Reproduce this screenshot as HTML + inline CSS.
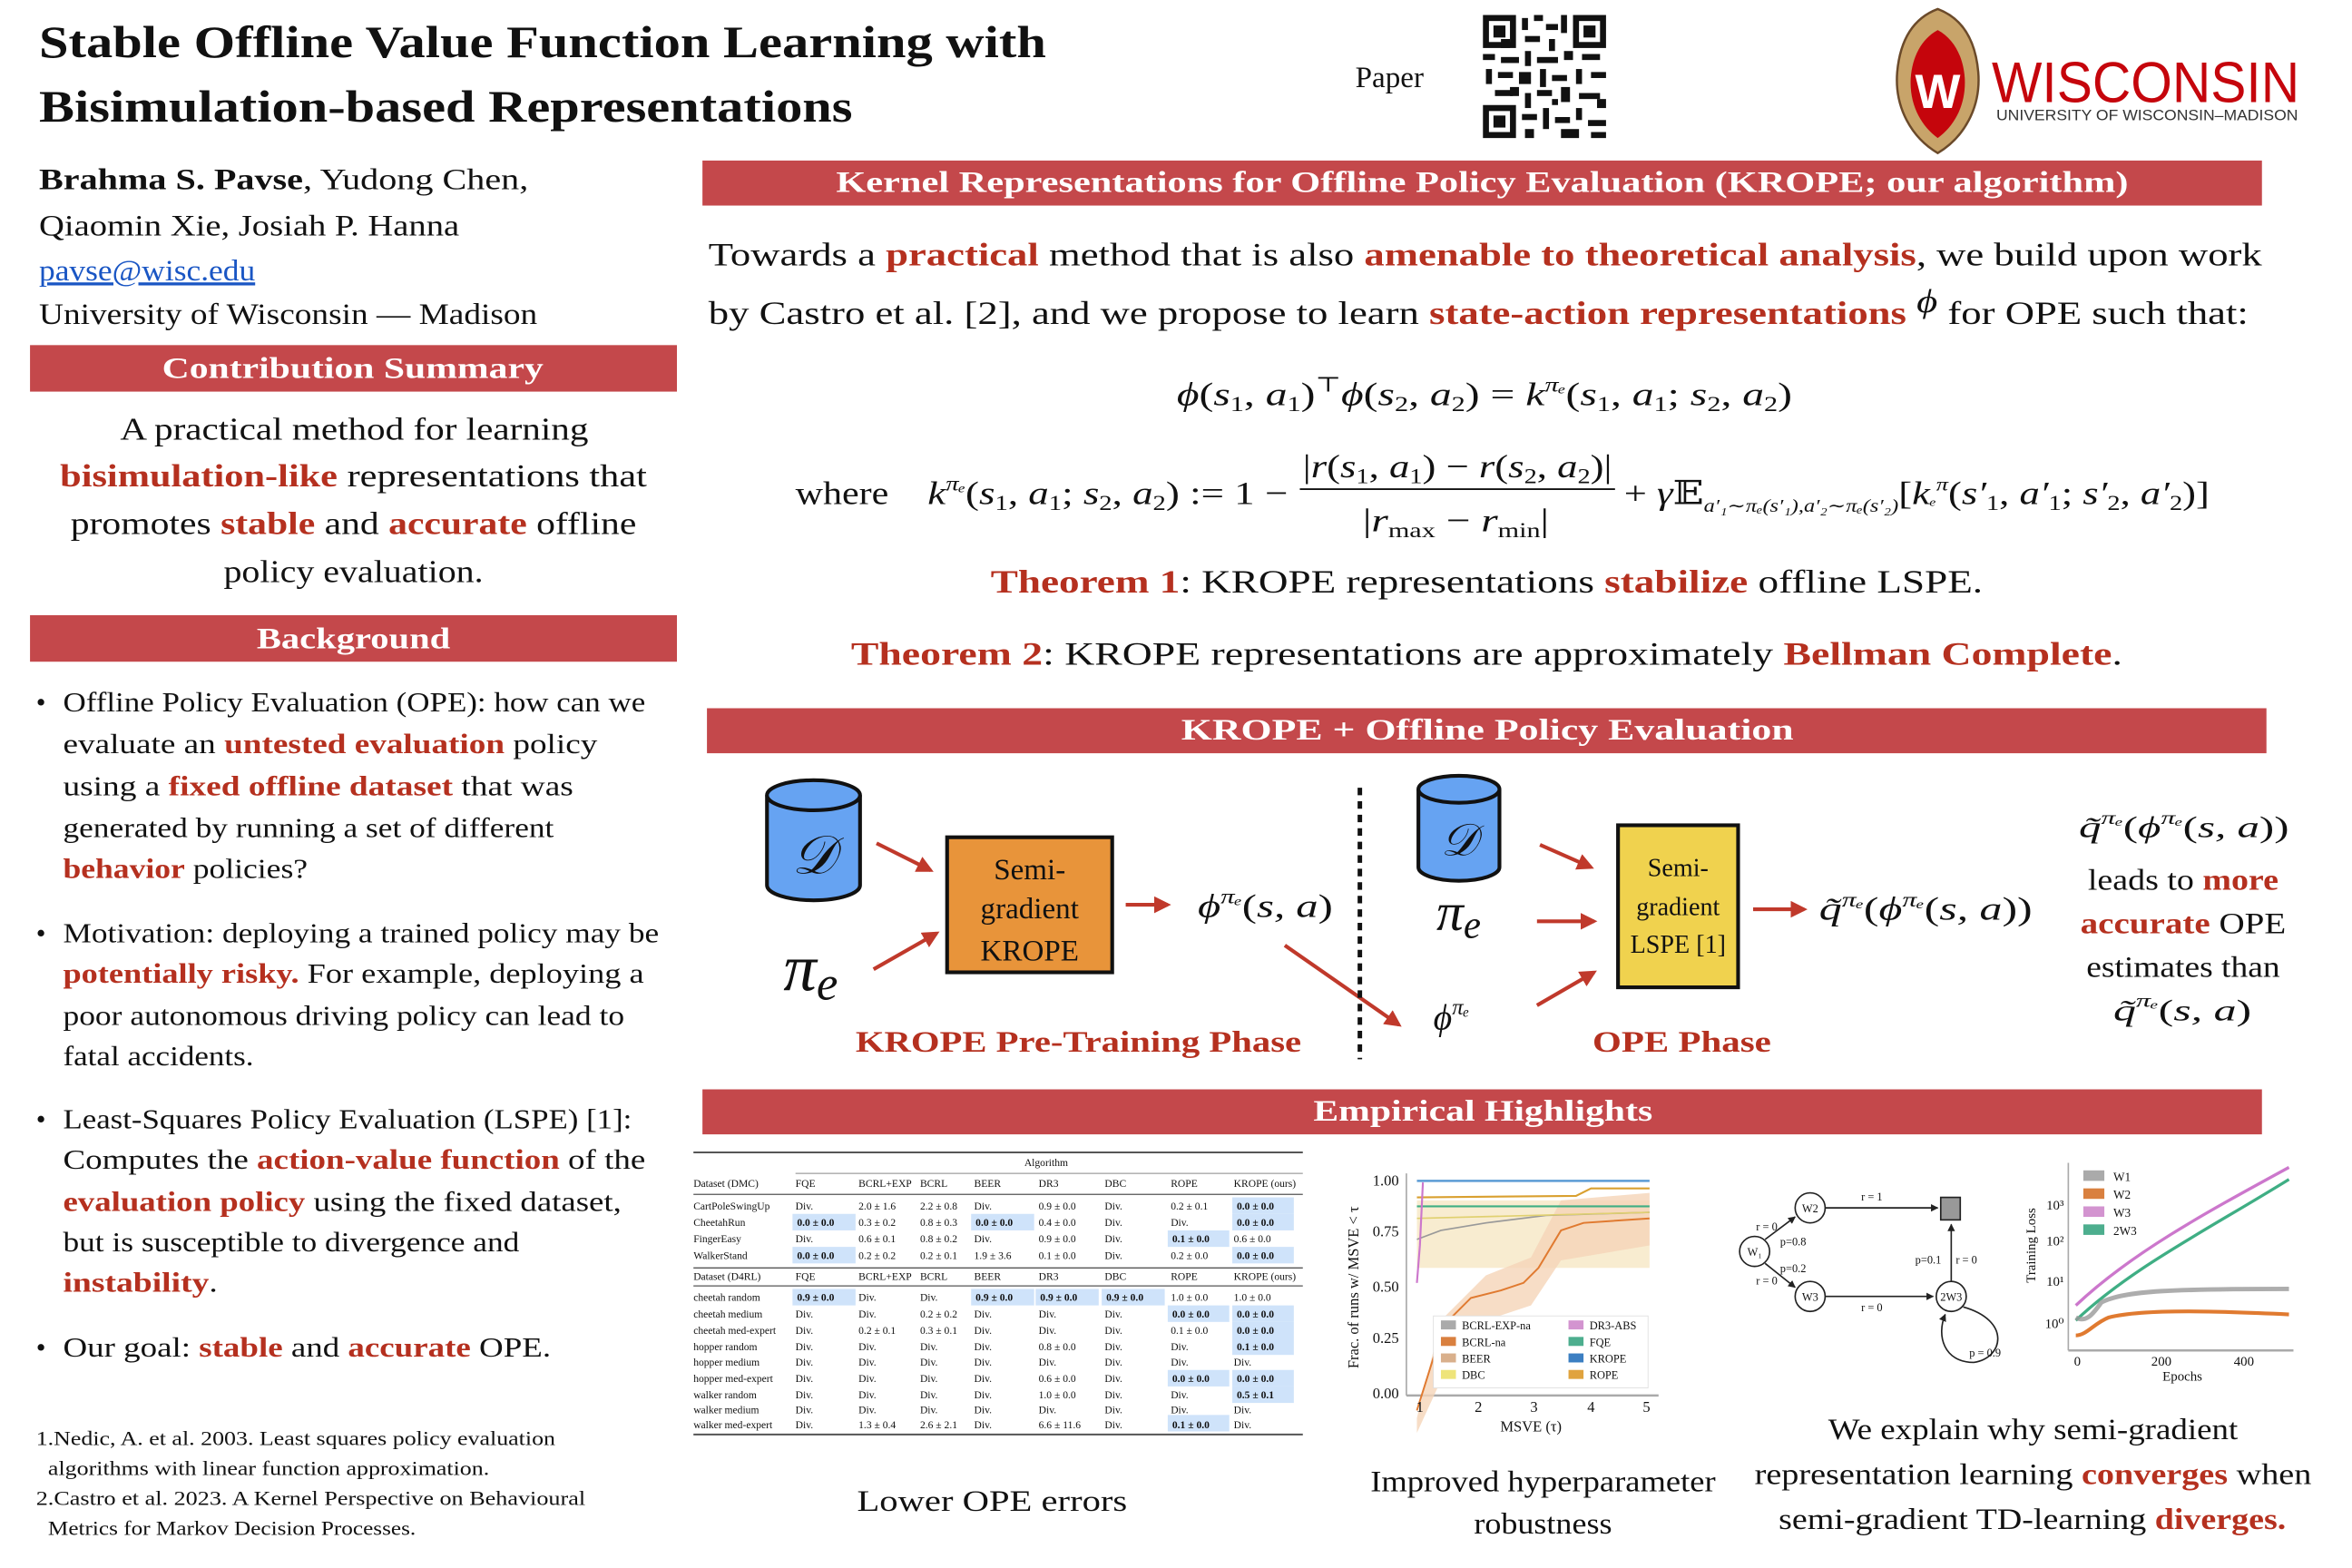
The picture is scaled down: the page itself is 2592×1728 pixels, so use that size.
<!DOCTYPE html>
<html><head><meta charset="utf-8"><style>
html,body{margin:0;padding:0;background:#fff;width:2592px;height:1728px;overflow:hidden}
svg{display:block}
text{font-family:"Liberation Serif","DejaVu Serif",serif;fill:#111}
.r{fill:#b5301f;font-weight:bold}
.w{fill:#fff}
.b{font-weight:bold}
.i{font-style:italic}
.s{font-family:"Liberation Sans","DejaVu Sans",sans-serif}
.t text{font-size:7px}
.hl{fill:#cfe3fa}
</style></head><body>
<svg width="2592" height="1728" viewBox="0 0 1567 1045" preserveAspectRatio="none" xmlns="http://www.w3.org/2000/svg">
<defs>
<marker id="ar" viewBox="0 0 10 10" refX="8" refY="5" markerWidth="4.5" markerHeight="4.5" orient="auto"><path d="M0,0L10,5L0,10z" fill="#c0392b"/></marker>
<marker id="ak" viewBox="0 0 10 10" refX="9" refY="5" markerWidth="5" markerHeight="5" orient="auto"><path d="M0,0L10,5L0,10z" fill="#222"/></marker>
</defs>
<!-- Title -->
<text x="26" y="38" font-size="30" class="b" textLength="671" lengthAdjust="spacingAndGlyphs">Stable Offline Value Function Learning with</text>
<text x="26" y="81" font-size="30" class="b" textLength="542" lengthAdjust="spacingAndGlyphs">Bisimulation-based Representations</text>
<text x="903" y="58" font-size="20">Paper</text>
<!-- QR -->
<g fill="#111">
<rect x="988" y="10" width="82" height="82" fill="#fff"/>
<rect x="988" y="10" width="22" height="22"/><rect x="992" y="14" width="14" height="14" fill="#fff"/><rect x="995" y="17" width="8" height="8"/>
<rect x="1048" y="10" width="22" height="22"/><rect x="1052" y="14" width="14" height="14" fill="#fff"/><rect x="1055" y="17" width="8" height="8"/>
<rect x="988" y="70" width="22" height="22"/><rect x="992" y="74" width="14" height="14" fill="#fff"/><rect x="995" y="77" width="8" height="8"/>
<rect x="1014" y="12" width="4" height="8"/><rect x="1022" y="10" width="6" height="4"/><rect x="1030" y="16" width="8" height="4"/><rect x="1040" y="10" width="4" height="12"/>
<rect x="1016" y="24" width="10" height="4"/><rect x="1032" y="26" width="4" height="8"/><rect x="988" y="36" width="8" height="4"/><rect x="1000" y="38" width="12" height="4"/>
<rect x="1016" y="34" width="4" height="10"/><rect x="1024" y="38" width="14" height="4"/><rect x="1042" y="34" width="6" height="6"/><rect x="1054" y="36" width="12" height="4"/>
<rect x="990" y="46" width="4" height="10"/><rect x="998" y="48" width="10" height="4"/><rect x="1012" y="48" width="8" height="8"/><rect x="1026" y="46" width="4" height="12"/>
<rect x="1034" y="50" width="10" height="4"/><rect x="1050" y="46" width="4" height="10"/><rect x="1060" y="48" width="10" height="4"/><rect x="996" y="60" width="12" height="4"/>
<rect x="1016" y="62" width="4" height="10"/><rect x="1024" y="60" width="10" height="4"/><rect x="1040" y="58" width="6" height="10"/><rect x="1052" y="62" width="14" height="4"/>
<rect x="1014" y="76" width="10" height="4"/><rect x="1028" y="72" width="4" height="14"/><rect x="1036" y="78" width="10" height="4"/><rect x="1050" y="72" width="4" height="8"/>
<rect x="1058" y="80" width="12" height="4"/><rect x="1016" y="86" width="6" height="6"/><rect x="1040" y="86" width="12" height="6"/><rect x="1060" y="88" width="10" height="4"/>
<rect x="1000" y="26" width="6" height="6"/><rect x="1006" y="58" width="6" height="6"/><rect x="1064" y="66" width="6" height="6"/><rect x="1034" y="66" width="4" height="4"/>
</g>
<!-- Wisconsin logo -->
<path d="M1291,6 C1275,12 1266,26 1264,48 C1262,72 1274,92 1291,102 C1308,92 1320,72 1318,48 C1316,26 1307,12 1291,6z" fill="#c8a46a" stroke="#6b4a2a" stroke-width="1.5"/>
<path d="M1291,20 C1280,26 1274,38 1273,52 C1272,70 1280,84 1291,92 C1302,84 1310,70 1309,52 C1308,38 1302,26 1291,20z" fill="#c5050c"/>
<text x="1291" y="72" font-size="32" text-anchor="middle" class="s b w">W</text>
<text x="1327" y="68" font-size="38" class="s" style="fill:#c5050c" textLength="205" lengthAdjust="spacingAndGlyphs">WISCONSIN</text>
<text x="1330" y="80" font-size="10" class="s" textLength="201" lengthAdjust="spacingAndGlyphs" style="fill:#333">UNIVERSITY OF WISCONSIN–MADISON</text>
<!-- Authors -->
<g font-size="20">
<text x="26" y="126" textLength="326" lengthAdjust="spacingAndGlyphs"><tspan class="b">Brahma S. Pavse</tspan>, Yudong Chen,</text>
<text x="26" y="157" textLength="280" lengthAdjust="spacingAndGlyphs">Qiaomin Xie, Josiah P. Hanna</text>
<text x="26" y="187" style="fill:#1a56c4" text-decoration="underline" textLength="144" lengthAdjust="spacingAndGlyphs">pavse@wisc.edu</text>
<text x="26" y="216" textLength="332" lengthAdjust="spacingAndGlyphs">University of Wisconsin — Madison</text>
</g>
<!-- Banners -->
<g fill="#c4484b">
<rect x="20" y="230" width="431" height="31"/>
<rect x="20" y="410" width="431" height="31"/>
<rect x="468" y="107" width="1039" height="30"/>
<rect x="471" y="472" width="1039" height="30"/>
<rect x="468" y="726" width="1039" height="30"/>
</g>
<text x="108" y="252" font-size="20" class="w b" textLength="254" lengthAdjust="spacingAndGlyphs">Contribution Summary</text>
<text x="171" y="432" font-size="20" class="w b" textLength="129" lengthAdjust="spacingAndGlyphs">Background</text>
<text x="557" y="128" font-size="20" class="w b" textLength="861" lengthAdjust="spacingAndGlyphs">Kernel Representations for Offline Policy Evaluation (KROPE; our algorithm)</text>
<text x="787" y="493" font-size="20" class="w b" textLength="408" lengthAdjust="spacingAndGlyphs">KROPE  + Offline Policy Evaluation</text>
<text x="875" y="747" font-size="20" class="w b" textLength="226" lengthAdjust="spacingAndGlyphs">Empirical Highlights</text>
<!-- Summary -->
<g font-size="21">
<text x="80" y="293" textLength="312" lengthAdjust="spacingAndGlyphs">A practical method for learning</text>
<text x="40" y="324" textLength="391" lengthAdjust="spacingAndGlyphs"><tspan class="r">bisimulation-like</tspan> representations that</text>
<text x="47" y="356" textLength="377" lengthAdjust="spacingAndGlyphs">promotes <tspan class="r">stable</tspan> and <tspan class="r">accurate</tspan> offline</text>
<text x="149" y="388" textLength="173" lengthAdjust="spacingAndGlyphs">policy evaluation.</text>
</g>
<!-- Background bullets -->
<g font-size="18.5">
<text x="24" y="474">•</text><text x="42" y="474" textLength="388" lengthAdjust="spacingAndGlyphs">Offline Policy Evaluation (OPE): how can we</text>
<text x="42" y="502" textLength="356" lengthAdjust="spacingAndGlyphs">evaluate an <tspan class="r">untested evaluation</tspan> policy</text>
<text x="42" y="530" textLength="340" lengthAdjust="spacingAndGlyphs">using a <tspan class="r">fixed offline dataset</tspan> that was</text>
<text x="42" y="558" textLength="327" lengthAdjust="spacingAndGlyphs">generated by running a set of different</text>
<text x="42" y="585" textLength="163" lengthAdjust="spacingAndGlyphs"><tspan class="r">behavior</tspan> policies?</text>
<text x="24" y="628">•</text><text x="42" y="628" textLength="397" lengthAdjust="spacingAndGlyphs">Motivation: deploying a trained policy may be</text>
<text x="42" y="655" textLength="387" lengthAdjust="spacingAndGlyphs"><tspan class="r">potentially risky.</tspan> For example, deploying a</text>
<text x="42" y="683" textLength="374" lengthAdjust="spacingAndGlyphs">poor autonomous driving policy can lead to</text>
<text x="42" y="710" textLength="127" lengthAdjust="spacingAndGlyphs">fatal accidents.</text>
<text x="24" y="752">•</text><text x="42" y="752" textLength="379" lengthAdjust="spacingAndGlyphs">Least-Squares Policy Evaluation (LSPE) [1]:</text>
<text x="42" y="779" textLength="388" lengthAdjust="spacingAndGlyphs">Computes the <tspan class="r">action-value function</tspan> of the</text>
<text x="42" y="807" textLength="372" lengthAdjust="spacingAndGlyphs"><tspan class="r">evaluation policy</tspan> using the fixed dataset,</text>
<text x="42" y="834" textLength="304" lengthAdjust="spacingAndGlyphs">but is susceptible to divergence and</text>
<text x="42" y="861" textLength="103" lengthAdjust="spacingAndGlyphs"><tspan class="r">instability</tspan>.</text>
<text x="24" y="904">•</text><text x="42" y="904" textLength="325" lengthAdjust="spacingAndGlyphs">Our goal: <tspan class="r">stable</tspan> and <tspan class="r">accurate</tspan> OPE.</text>
</g>
<g font-size="13.5">
<text x="24" y="963" textLength="346" lengthAdjust="spacingAndGlyphs">1.Nedic, A. et al. 2003. Least squares policy evaluation</text>
<text x="32" y="983" textLength="294" lengthAdjust="spacingAndGlyphs">algorithms with linear function approximation.</text>
<text x="24" y="1003" textLength="366" lengthAdjust="spacingAndGlyphs">2.Castro et al. 2023. A Kernel Perspective on Behavioural</text>
<text x="32" y="1023" textLength="245" lengthAdjust="spacingAndGlyphs">Metrics for Markov Decision Processes.</text>
</g>
<!-- KROPE text -->
<g font-size="22">
<text x="472" y="177" textLength="1035" lengthAdjust="spacingAndGlyphs">Towards a <tspan class="r">practical</tspan> method that is also <tspan class="r">amenable to theoretical analysis</tspan>, we build upon work</text>
<text x="472" y="216" textLength="1026" lengthAdjust="spacingAndGlyphs">by Castro et al. [2], and we propose to learn <tspan class="r">state-action representations</tspan> <tspan class="i" dy="-8">ϕ</tspan><tspan dy="8"> for OPE such that:</tspan></text>
<text x="784" y="270" textLength="410" lengthAdjust="spacingAndGlyphs"><tspan class="i">ϕ</tspan>(<tspan class="i">s</tspan><tspan font-size="14" dy="4">1</tspan><tspan dy="-4">, </tspan><tspan class="i">a</tspan><tspan font-size="14" dy="4">1</tspan><tspan dy="-4">)</tspan><tspan font-size="14" dy="-9">⊤</tspan><tspan dy="9" class="i">ϕ</tspan>(<tspan class="i">s</tspan><tspan font-size="14" dy="4">2</tspan><tspan dy="-4">, </tspan><tspan class="i">a</tspan><tspan font-size="14" dy="4">2</tspan><tspan dy="-4">) = </tspan><tspan class="i">k</tspan><tspan font-size="14" dy="-9" class="i">πₑ</tspan><tspan dy="9">(</tspan><tspan class="i">s</tspan><tspan font-size="14" dy="4">1</tspan><tspan dy="-4">, </tspan><tspan class="i">a</tspan><tspan font-size="14" dy="4">1</tspan><tspan dy="-4">; </tspan><tspan class="i">s</tspan><tspan font-size="14" dy="4">2</tspan><tspan dy="-4">, </tspan><tspan class="i">a</tspan><tspan font-size="14" dy="4">2</tspan><tspan dy="-4">)</tspan></text>
<text x="530" y="336" textLength="62" lengthAdjust="spacingAndGlyphs">where</text>
<text x="618" y="336" textLength="240" lengthAdjust="spacingAndGlyphs"><tspan class="i">k</tspan><tspan font-size="14" dy="-9" class="i">πₑ</tspan><tspan dy="9">(</tspan><tspan class="i">s</tspan><tspan font-size="14" dy="4">1</tspan><tspan dy="-4">, </tspan><tspan class="i">a</tspan><tspan font-size="14" dy="4">1</tspan><tspan dy="-4">; </tspan><tspan class="i">s</tspan><tspan font-size="14" dy="4">2</tspan><tspan dy="-4">, </tspan><tspan class="i">a</tspan><tspan font-size="14" dy="4">2</tspan><tspan dy="-4">) := 1 −</tspan></text>
<text x="868" y="318" textLength="206" lengthAdjust="spacingAndGlyphs">|<tspan class="i">r</tspan>(<tspan class="i">s</tspan><tspan font-size="14" dy="4">1</tspan><tspan dy="-4">, </tspan><tspan class="i">a</tspan><tspan font-size="14" dy="4">1</tspan><tspan dy="-4">) − </tspan><tspan class="i">r</tspan>(<tspan class="i">s</tspan><tspan font-size="14" dy="4">2</tspan><tspan dy="-4">, </tspan><tspan class="i">a</tspan><tspan font-size="14" dy="4">2</tspan><tspan dy="-4">)|</tspan></text>
<text x="908" y="354" textLength="124" lengthAdjust="spacingAndGlyphs">|<tspan class="i">r</tspan><tspan font-size="14" dy="4">max</tspan><tspan dy="-4"> − </tspan><tspan class="i">r</tspan><tspan font-size="14" dy="4">min</tspan><tspan dy="-4">|</tspan></text>
<text x="1082" y="336" textLength="390" lengthAdjust="spacingAndGlyphs">+ <tspan class="i">γ</tspan>𝔼<tspan font-size="12" dy="5" class="i">a′₁∼πₑ(s′₁),a′₂∼πₑ(s′₂)</tspan><tspan dy="-5">[</tspan><tspan class="i">k</tspan><tspan font-size="13" class="i">ₑ</tspan><tspan font-size="13" dy="-9" class="i">π</tspan><tspan dy="9">(</tspan><tspan class="i">s′</tspan><tspan font-size="14" dy="4">1</tspan><tspan dy="-4">, </tspan><tspan class="i">a′</tspan><tspan font-size="14" dy="4">1</tspan><tspan dy="-4">; </tspan><tspan class="i">s′</tspan><tspan font-size="14" dy="4">2</tspan><tspan dy="-4">, </tspan><tspan class="i">a′</tspan><tspan font-size="14" dy="4">2</tspan><tspan dy="-4">)]</tspan></text>
<text x="660" y="395" textLength="661" lengthAdjust="spacingAndGlyphs"><tspan class="r">Theorem 1</tspan>: KROPE representations <tspan class="r">stabilize</tspan> offline LSPE.</text>
<text x="567" y="443" textLength="847" lengthAdjust="spacingAndGlyphs"><tspan class="r">Theorem 2</tspan>: KROPE representations are approximately <tspan class="r">Bellman Complete</tspan>.</text>
</g>
<line x1="866" y1="326" x2="1076" y2="326" stroke="#111" stroke-width="1.2"/>
<!-- Diagram -->
<g stroke="#111" stroke-width="2.5">
<path d="M511,530 L511,590 A31,10 0 0 0 573,590 L573,530" fill="#66a3f2"/>
<ellipse cx="542" cy="530" rx="31" ry="10" fill="#66a3f2"/>
<path d="M945,526 L945,578 A27,9 0 0 0 999,578 L999,526" fill="#66a3f2"/>
<ellipse cx="972" cy="526" rx="27" ry="9" fill="#66a3f2"/>
<rect x="631" y="558" width="110" height="90" fill="#e8943a"/>
<rect x="1078" y="550" width="80" height="108" fill="#f0d24e"/>
</g>
<text x="542" y="582" font-size="36" text-anchor="middle" class="i">𝒟</text>
<text x="972" y="570" font-size="30" text-anchor="middle" class="i">𝒟</text>
<text x="522" y="660" font-size="44" class="i">π<tspan font-size="32" dy="6">e</tspan></text>
<text x="957" y="620" font-size="36" class="i">π<tspan font-size="26" dy="5">e</tspan></text>
<text x="686" y="586" font-size="20" text-anchor="middle">Semi-</text>
<text x="686" y="612" font-size="20" text-anchor="middle">gradient</text>
<text x="686" y="640" font-size="20" text-anchor="middle">KROPE</text>
<text x="1118" y="584" font-size="17" text-anchor="middle">Semi-</text>
<text x="1118" y="610" font-size="17" text-anchor="middle">gradient</text>
<text x="1118" y="635" font-size="17" text-anchor="middle">LSPE [1]</text>
<text x="798" y="611" font-size="22" textLength="90" lengthAdjust="spacingAndGlyphs"><tspan class="i">ϕ</tspan><tspan font-size="14" dy="-9" class="i">πₑ</tspan><tspan dy="9">(</tspan><tspan class="i">s, a</tspan>)</text>
<text x="955" y="686" font-size="24" class="i">ϕ<tspan font-size="15" dy="-10">πₑ</tspan></text>
<text x="1212" y="613" font-size="22" textLength="142" lengthAdjust="spacingAndGlyphs"><tspan class="i">q̃</tspan><tspan font-size="14" dy="-9" class="i">πₑ</tspan><tspan dy="9">(</tspan><tspan class="i">ϕ</tspan><tspan font-size="14" dy="-9" class="i">πₑ</tspan><tspan dy="9">(</tspan><tspan class="i">s, a</tspan>))</text>
<g stroke="#c0392b" stroke-width="2.5" fill="none" marker-end="url(#ar)">
<line x1="584" y1="562" x2="620" y2="580"/>
<line x1="582" y1="646" x2="624" y2="622"/>
<line x1="750" y1="603" x2="778" y2="603"/>
<line x1="856" y1="630" x2="932" y2="683"/>
<line x1="1026" y1="563" x2="1060" y2="578"/>
<line x1="1024" y1="614" x2="1062" y2="614"/>
<line x1="1024" y1="670" x2="1062" y2="648"/>
<line x1="1168" y1="606" x2="1202" y2="606"/>
</g>
<line x1="906" y1="525" x2="906" y2="706" stroke="#111" stroke-width="3" stroke-dasharray="5,4"/>
<text x="570" y="701" font-size="20" class="r" textLength="297" lengthAdjust="spacingAndGlyphs">KROPE Pre-Training Phase</text>
<text x="1061" y="701" font-size="20" class="r" textLength="119" lengthAdjust="spacingAndGlyphs">OPE Phase</text>
<g font-size="20">
<text x="1385" y="558" textLength="140" lengthAdjust="spacingAndGlyphs"><tspan class="i">q̃</tspan><tspan font-size="13" dy="-9" class="i">πₑ</tspan><tspan dy="9">(</tspan><tspan class="i">ϕ</tspan><tspan font-size="13" dy="-9" class="i">πₑ</tspan><tspan dy="9">(</tspan><tspan class="i">s, a</tspan>))</text>
<text x="1391" y="593" textLength="127" lengthAdjust="spacingAndGlyphs">leads to <tspan class="r">more</tspan></text>
<text x="1386" y="622" textLength="137" lengthAdjust="spacingAndGlyphs"><tspan class="r">accurate</tspan> OPE</text>
<text x="1390" y="651" textLength="129" lengthAdjust="spacingAndGlyphs">estimates than</text>
<text x="1408" y="680" textLength="92" lengthAdjust="spacingAndGlyphs"><tspan class="i">q̃</tspan><tspan font-size="13" dy="-9" class="i">πₑ</tspan><tspan dy="9">(</tspan><tspan class="i">s, a</tspan>)</text>
</g>
<!-- Table -->
<g class="t">
<line x1="462" y1="768" x2="868" y2="768" stroke="#555" stroke-width="1.2"/>
<line x1="530" y1="782" x2="868" y2="782" stroke="#888" stroke-width="0.6"/>
<line x1="462" y1="796" x2="868" y2="796" stroke="#555" stroke-width="0.8"/>
<line x1="462" y1="845" x2="868" y2="845" stroke="#555" stroke-width="0.8"/>
<line x1="462" y1="857" x2="868" y2="857" stroke="#555" stroke-width="0.8"/>
<line x1="462" y1="956" x2="868" y2="956" stroke="#555" stroke-width="1.2"/>
<g class="hl">
<rect x="821" y="798" width="41" height="11"/><rect x="821" y="809" width="41" height="11"/><rect x="528" y="809" width="42" height="11"/><rect x="647" y="809" width="42" height="11"/>
<rect x="778" y="820" width="41" height="11"/><rect x="528" y="831" width="42" height="11"/><rect x="821" y="831" width="41" height="11"/>
<rect x="528" y="859" width="42" height="11"/><rect x="647" y="859" width="42" height="11"/><rect x="690" y="859" width="42" height="11"/><rect x="734" y="859" width="42" height="11"/>
<rect x="778" y="870" width="41" height="11"/><rect x="821" y="870" width="41" height="11"/><rect x="821" y="881" width="41" height="11"/><rect x="821" y="892" width="41" height="11"/>
<rect x="778" y="913" width="41" height="11"/><rect x="821" y="913" width="41" height="11"/><rect x="821" y="924" width="41" height="11"/><rect x="778" y="943" width="41" height="11"/>
</g>
<text x="697" y="777" text-anchor="middle">Algorithm</text>
<text x="462" y="791">Dataset (DMC)</text><text x="530" y="791">FQE</text><text x="572" y="791">BCRL+EXP</text><text x="613" y="791">BCRL</text><text x="649" y="791">BEER</text><text x="692" y="791">DR3</text><text x="736" y="791">DBC</text><text x="780" y="791">ROPE</text><text x="822" y="791">KROPE (ours)</text>
<text x="462" y="806">CartPoleSwingUp</text><text x="530" y="806">Div.</text><text x="572" y="806">2.0 ± 1.6</text><text x="613" y="806">2.2 ± 0.8</text><text x="649" y="806">Div.</text><text x="692" y="806">0.9 ± 0.0</text><text x="736" y="806">Div.</text><text x="780" y="806">0.2 ± 0.1</text><text x="824" y="806" class="b">0.0 ± 0.0</text>
<text x="462" y="817">CheetahRun</text><text x="531" y="817" class="b">0.0 ± 0.0</text><text x="572" y="817">0.3 ± 0.2</text><text x="613" y="817">0.8 ± 0.3</text><text x="650" y="817" class="b">0.0 ± 0.0</text><text x="692" y="817">0.4 ± 0.0</text><text x="736" y="817">Div.</text><text x="780" y="817">Div.</text><text x="824" y="817" class="b">0.0 ± 0.0</text>
<text x="462" y="828">FingerEasy</text><text x="530" y="828">Div.</text><text x="572" y="828">0.6 ± 0.1</text><text x="613" y="828">0.8 ± 0.2</text><text x="649" y="828">Div.</text><text x="692" y="828">0.9 ± 0.0</text><text x="736" y="828">Div.</text><text x="781" y="828" class="b">0.1 ± 0.0</text><text x="822" y="828">0.6 ± 0.0</text>
<text x="462" y="839">WalkerStand</text><text x="531" y="839" class="b">0.0 ± 0.0</text><text x="572" y="839">0.2 ± 0.2</text><text x="613" y="839">0.2 ± 0.1</text><text x="649" y="839">1.9 ± 3.6</text><text x="692" y="839">0.1 ± 0.0</text><text x="736" y="839">Div.</text><text x="780" y="839">0.2 ± 0.0</text><text x="824" y="839" class="b">0.0 ± 0.0</text>
<text x="462" y="853">Dataset (D4RL)</text><text x="530" y="853">FQE</text><text x="572" y="853">BCRL+EXP</text><text x="613" y="853">BCRL</text><text x="649" y="853">BEER</text><text x="692" y="853">DR3</text><text x="736" y="853">DBC</text><text x="780" y="853">ROPE</text><text x="822" y="853">KROPE (ours)</text>
<text x="462" y="867">cheetah random</text><text x="531" y="867" class="b">0.9 ± 0.0</text><text x="572" y="867">Div.</text><text x="613" y="867">Div.</text><text x="650" y="867" class="b">0.9 ± 0.0</text><text x="693" y="867" class="b">0.9 ± 0.0</text><text x="737" y="867" class="b">0.9 ± 0.0</text><text x="780" y="867">1.0 ± 0.0</text><text x="822" y="867">1.0 ± 0.0</text>
<text x="462" y="878">cheetah medium</text><text x="530" y="878">Div.</text><text x="572" y="878">Div.</text><text x="613" y="878">0.2 ± 0.2</text><text x="649" y="878">Div.</text><text x="692" y="878">Div.</text><text x="736" y="878">Div.</text><text x="781" y="878" class="b">0.0 ± 0.0</text><text x="824" y="878" class="b">0.0 ± 0.0</text>
<text x="462" y="889">cheetah med-expert</text><text x="530" y="889">Div.</text><text x="572" y="889">0.2 ± 0.1</text><text x="613" y="889">0.3 ± 0.1</text><text x="649" y="889">Div.</text><text x="692" y="889">Div.</text><text x="736" y="889">Div.</text><text x="780" y="889">0.1 ± 0.0</text><text x="824" y="889" class="b">0.0 ± 0.0</text>
<text x="462" y="900">hopper random</text><text x="530" y="900">Div.</text><text x="572" y="900">Div.</text><text x="613" y="900">Div.</text><text x="649" y="900">Div.</text><text x="692" y="900">0.8 ± 0.0</text><text x="736" y="900">Div.</text><text x="780" y="900">Div.</text><text x="824" y="900" class="b">0.1 ± 0.0</text>
<text x="462" y="910">hopper medium</text><text x="530" y="910">Div.</text><text x="572" y="910">Div.</text><text x="613" y="910">Div.</text><text x="649" y="910">Div.</text><text x="692" y="910">Div.</text><text x="736" y="910">Div.</text><text x="780" y="910">Div.</text><text x="822" y="910">Div.</text>
<text x="462" y="921">hopper med-expert</text><text x="530" y="921">Div.</text><text x="572" y="921">Div.</text><text x="613" y="921">Div.</text><text x="649" y="921">Div.</text><text x="692" y="921">0.6 ± 0.0</text><text x="736" y="921">Div.</text><text x="781" y="921" class="b">0.0 ± 0.0</text><text x="824" y="921" class="b">0.0 ± 0.0</text>
<text x="462" y="932">walker random</text><text x="530" y="932">Div.</text><text x="572" y="932">Div.</text><text x="613" y="932">Div.</text><text x="649" y="932">Div.</text><text x="692" y="932">1.0 ± 0.0</text><text x="736" y="932">Div.</text><text x="780" y="932">Div.</text><text x="824" y="932" class="b">0.5 ± 0.1</text>
<text x="462" y="942">walker medium</text><text x="530" y="942">Div.</text><text x="572" y="942">Div.</text><text x="613" y="942">Div.</text><text x="649" y="942">Div.</text><text x="692" y="942">Div.</text><text x="736" y="942">Div.</text><text x="780" y="942">Div.</text><text x="822" y="942">Div.</text>
<text x="462" y="952">walker med-expert</text><text x="530" y="952">Div.</text><text x="572" y="952">1.3 ± 0.4</text><text x="613" y="952">2.6 ± 2.1</text><text x="649" y="952">Div.</text><text x="692" y="952">6.6 ± 11.6</text><text x="736" y="952">Div.</text><text x="781" y="952" class="b">0.1 ± 0.0</text><text x="822" y="952">Div.</text>
</g>
<!-- Chart 1 -->
<g class="s">
<line x1="937" y1="782" x2="937" y2="930" stroke="#aaa" stroke-width="1"/>
<line x1="937" y1="930" x2="1105" y2="930" stroke="#aaa" stroke-width="1.5"/>
<rect x="944" y="800" width="155" height="45" fill="#f3e0b0" opacity="0.6"/>
<path d="M944,945 L960,880 L990,850 L1020,838 L1040,800 L1099,795 L1099,830 L1040,840 L1020,870 L990,880 L960,920 L944,955z" fill="#f5d5b8" opacity="0.8"/>
<line x1="944" y1="787" x2="1099" y2="787" stroke="#5b9bd5" stroke-width="1.5"/>
<polyline points="944,798 1050,797 1060,792 1099,792" stroke="#d9a030" fill="none" stroke-width="1.3"/>
<line x1="944" y1="804" x2="1099" y2="804" stroke="#3fae84" stroke-width="1.3"/>
<polyline points="944,826 960,820 990,815 1030,810 1099,808" stroke="#999" fill="none" stroke-width="1"/>
<polyline points="944,812 1099,808" stroke="#e0d070" fill="none" stroke-width="1"/>
<polyline points="944,855 946,830 948,788" stroke="#cc77cc" fill="none" stroke-width="1.3"/>
<polyline points="944,940 955,905 965,880 980,865 1000,860 1015,855 1025,845 1040,820 1055,815 1099,812" stroke="#e07a30" fill="none" stroke-width="1.2"/>
<g font-size="10" fill="#222"><text x="932" y="790" text-anchor="end">1.00</text><text x="932" y="824" text-anchor="end">0.75</text><text x="932" y="861" text-anchor="end">0.50</text><text x="932" y="895" text-anchor="end">0.25</text><text x="932" y="932" text-anchor="end">0.00</text>
<text x="946" y="941" text-anchor="middle">1</text><text x="985" y="941" text-anchor="middle">2</text><text x="1022" y="941" text-anchor="middle">3</text><text x="1060" y="941" text-anchor="middle">4</text><text x="1097" y="941" text-anchor="middle">5</text>
<text x="1020" y="954" text-anchor="middle">MSVE (τ)</text>
<text transform="translate(905,858) rotate(-90)" text-anchor="middle">Frac. of runs w/ MSVE &lt; τ</text></g>
<rect x="955" y="877" width="143" height="48" fill="#fff" stroke="#ddd" stroke-width="0.5"/>
<g font-size="7.5" fill="#222">
<rect x="960" y="880" width="10" height="6" fill="#aaa"/><text x="974" y="886">BCRL-EXP-na</text>
<rect x="960" y="891" width="10" height="6" fill="#d9803f"/><text x="974" y="897">BCRL-na</text>
<rect x="960" y="902" width="10" height="6" fill="#d9b08c"/><text x="974" y="908">BEER</text>
<rect x="960" y="913" width="10" height="6" fill="#eee47a"/><text x="974" y="919">DBC</text>
<rect x="1045" y="880" width="10" height="6" fill="#d394d0"/><text x="1059" y="886">DR3-ABS</text>
<rect x="1045" y="891" width="10" height="6" fill="#4dae8e"/><text x="1059" y="897">FQE</text>
<rect x="1045" y="902" width="10" height="6" fill="#3c7fc2"/><text x="1059" y="908">KROPE</text>
<rect x="1045" y="913" width="10" height="6" fill="#e0a33e"/><text x="1059" y="919">ROPE</text>
</g>
</g>
<!-- MDP -->
<g class="s" font-size="8" fill="none" stroke="#222" stroke-width="1">
<circle cx="1169" cy="834" r="10" fill="#fff"/>
<circle cx="1206" cy="805" r="10" fill="#fff"/>
<circle cx="1206" cy="864" r="10" fill="#fff"/>
<circle cx="1300" cy="864" r="10" fill="#fff"/>
<rect x="1293" y="798" width="13" height="15" fill="#999"/>
<line x1="1176" y1="826" x2="1196" y2="811" marker-end="url(#ak)"/>
<line x1="1176" y1="842" x2="1196" y2="858" marker-end="url(#ak)"/>
<line x1="1216" y1="805" x2="1291" y2="805" marker-end="url(#ak)"/>
<line x1="1216" y1="864" x2="1288" y2="864" marker-end="url(#ak)"/>
<line x1="1300" y1="854" x2="1300" y2="816" marker-end="url(#ak)"/>
<path d="M1308,871 C1340,880 1335,905 1315,908 C1295,908 1290,890 1296,876" marker-end="url(#ak)"/>
</g>
<g class="s" font-size="7.5" fill="#222">
<text x="1169" y="837" text-anchor="middle">W₁</text><text x="1206" y="808" text-anchor="middle">W2</text><text x="1206" y="867" text-anchor="middle">W3</text><text x="1300" y="867" text-anchor="middle">2W3</text>
<text x="1240" y="800">r = 1</text><text x="1240" y="874">r = 0</text><text x="1170" y="820">r = 0</text><text x="1186" y="830">p=0.8</text><text x="1186" y="848">p=0.2</text><text x="1170" y="856">r = 0</text>
<text x="1276" y="842">p=0.1</text><text x="1303" y="842">r = 0</text><text x="1312" y="904">p = 0.9</text>
</g>
<!-- Chart 2 -->
<g class="s">
<line x1="1378" y1="775" x2="1378" y2="900" stroke="#aaa"/>
<line x1="1378" y1="900" x2="1528" y2="900" stroke="#aaa" stroke-width="1.5"/>
<path d="M1383,870 C1420,835 1470,808 1525,778" stroke="#cc77cc" fill="none" stroke-width="2"/>
<path d="M1383,880 C1420,845 1470,820 1525,786" stroke="#3fae84" fill="none" stroke-width="2"/>
<path d="M1383,878 C1390,882 1395,875 1400,868 C1415,860 1450,859 1525,859" stroke="#999" fill="none" stroke-width="3" opacity="0.8"/>
<path d="M1383,890 C1390,890 1395,882 1405,878 C1430,872 1480,874 1525,876" stroke="#e07a30" fill="none" stroke-width="2.5"/>
<g font-size="9" fill="#222">
<text x="1375" y="806" text-anchor="end">10³</text><text x="1375" y="830" text-anchor="end">10²</text><text x="1375" y="857" text-anchor="end">10¹</text><text x="1375" y="885" text-anchor="end">10⁰</text>
<text x="1384" y="910" text-anchor="middle">0</text><text x="1440" y="910" text-anchor="middle">200</text><text x="1495" y="910" text-anchor="middle">400</text>
<text x="1454" y="920" text-anchor="middle">Epochs</text>
<text transform="translate(1356,830) rotate(-90)" text-anchor="middle">Training Loss</text>
</g>
<g font-size="8" fill="#222">
<rect x="1388" y="780" width="14" height="7" fill="#aaa"/><text x="1408" y="787">W1</text>
<rect x="1388" y="792" width="14" height="7" fill="#d9803f"/><text x="1408" y="799">W2</text>
<rect x="1388" y="804" width="14" height="7" fill="#d394d0"/><text x="1408" y="811">W3</text>
<rect x="1388" y="816" width="14" height="7" fill="#4dae8e"/><text x="1408" y="823">2W3</text>
</g>
</g>
<!-- Captions -->
<g font-size="20">
<text x="571" y="1007" textLength="180" lengthAdjust="spacingAndGlyphs">Lower OPE errors</text>
<text x="913" y="994" textLength="230" lengthAdjust="spacingAndGlyphs">Improved hyperparameter</text>
<text x="982" y="1022" textLength="92" lengthAdjust="spacingAndGlyphs">robustness</text>
<text x="1218" y="959" textLength="273" lengthAdjust="spacingAndGlyphs">We explain why semi-gradient</text>
<text x="1169" y="989" textLength="371" lengthAdjust="spacingAndGlyphs">representation learning <tspan class="r">converges</tspan> when</text>
<text x="1185" y="1019" textLength="338" lengthAdjust="spacingAndGlyphs">semi-gradient TD-learning <tspan class="r">diverges.</tspan></text>
</g>
</svg>
</body></html>
